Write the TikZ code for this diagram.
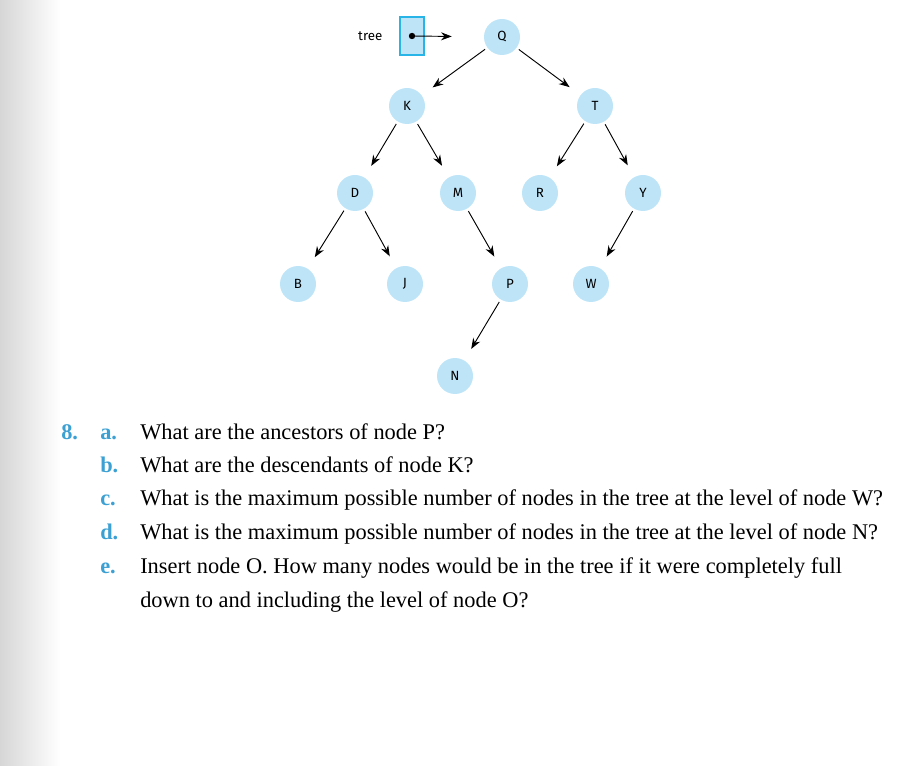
\documentclass[tikz,border=0pt]{standalone}
\usepackage{fontspec}
\setmainfont{Liberation Serif}
\newfontfamily\nodefont{Fira Sans}
\usetikzlibrary{arrows.meta}
\definecolor{nodeblue}{RGB}{190,228,248}
\definecolor{boxblue}{RGB}{40,180,230}
\definecolor{numblue}{RGB}{60,160,210}
\tikzset{
  tn/.style={circle,fill=nodeblue,minimum size=27pt,inner sep=0pt,font=\nodefont\fontsize{10}{11}\selectfont},
  edge/.style={-{Stealth[length=8pt,width=6pt]},line width=0.7pt,shorten >=10pt,shorten <=2pt},
  qtext/.style={anchor=base west,font=\fontsize{16.8}{20}\selectfont,inner sep=0pt},
  qlab/.style={anchor=base west,font=\bfseries\fontsize{16.8}{20}\selectfont,text=numblue,inner sep=0pt}
}
\begin{document}
\begin{tikzpicture}[x=0.75pt,y=-0.75pt]
\useasboundingbox (0,0) rectangle (910,766);
\shade[left color=black!16,right color=white] (0,0) rectangle (60,766);
\node[tn] (Q) at (502,37) {Q};
\node[tn] (K) at (407,106) {K};
\node[tn] (T) at (595,106) {T};
\node[tn] (D) at (355,193) {D};
\node[tn] (M) at (458,193) {M};
\node[tn] (R) at (540,193) {R};
\node[tn] (Y) at (643,193) {Y};
\node[tn] (B) at (298,284) {B};
\node[tn] (J) at (405,284) {J};
\node[tn] (P) at (510,284) {P};
\node[tn] (W) at (591,284) {W};
\node[tn] (N) at (455,376) {N};
\node[draw=boxblue,fill=nodeblue,line width=1.3pt,minimum width=18pt,minimum height=28pt,inner sep=0pt] (box) at (412,36) {};
\node[font=\nodefont\fontsize{10}{11}\selectfont,anchor=east] (treelab) at (387,36) {tree};
\fill (box.center) circle (2.4pt);
\coordinate (bc) at (box.center);
\draw[edge,shorten >=24pt,shorten <=0pt] (bc) -- (Q);
\draw[edge] (Q) -- (K);
\draw[edge] (Q) -- (T);
\draw[edge] (K) -- (D);
\draw[edge] (K) -- (M);
\draw[edge] (T) -- (R);
\draw[edge] (T) -- (Y);
\draw[edge] (D) -- (B);
\draw[edge] (D) -- (J);
\draw[edge] (M) -- (P);
\draw[edge] (Y) -- (W);
\draw[edge] (P) -- (N);
\node[qlab] (n8) at (61,439) {8.};
\node[qlab] (la) at (100,439) {a.};
\node[qtext] (ta) at (140,439) {What are the ancestors of node P?};
\node[qlab] (lb) at (100,472) {b.};
\node[qtext] (tb) at (140,472) {What are the descendants of node K?};
\node[qlab] (lc) at (100,505) {c.};
\node[qtext] (tc) at (140,505) {What is the maximum possible number of nodes in the tree at the level of node W?};
\node[qlab] (ld) at (100,539) {d.};
\node[qtext] (td) at (140,539) {What is the maximum possible number of nodes in the tree at the level of node N?};
\node[qlab] (le) at (100,573) {e.};
\node[qtext] (te) at (140,573) {Insert node O. How many nodes would be in the tree if it were completely full};
\node[qtext] (te2) at (140,607) {down to and including the level of node O?};
\end{tikzpicture}
\end{document}
